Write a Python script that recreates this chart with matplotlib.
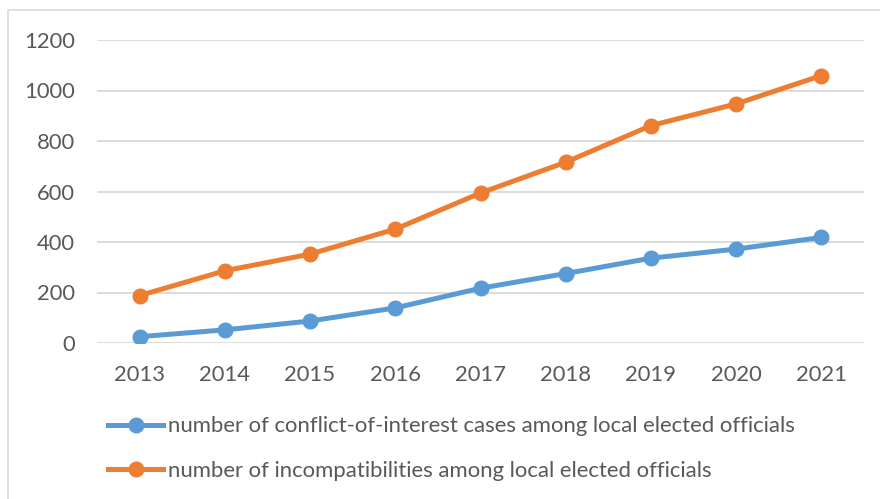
import matplotlib.pyplot as plt
from matplotlib.patches import Rectangle

plt.rcParams['font.family'] = ['Lato', 'DejaVu Sans']

years = ['2013', '2014', '2015', '2016', '2017', '2018', '2019', '2020', '2021']
conflict_cases = [25, 52, 87, 139, 217, 275, 336, 372, 418]
incompatibilities = [188, 286, 352, 451, 594, 716, 861, 947, 1059]

blue = '#5B9BD5'
orange = '#ED7D31'
text_col = '#595959'

fig = plt.figure(figsize=(8.8, 4.99), dpi=100)
fig.patches.append(Rectangle((8 / 880, -0.1), 1.0, 1 - 10 / 499 + 0.1, transform=fig.transFigure,
                             fill=False, edgecolor='#D9D9D9', linewidth=1.2))
ax = fig.add_axes([97 / 880, 1 - 343 / 499, (864 - 97) / 880, (343 - 40) / 499])

x = range(len(years))
ax.plot(x, conflict_cases, color=blue, lw=3.6, marker='o', ms=10.5,
        label='number of conflict-of-interest cases among local elected officials', zorder=3)
ax.plot(x, incompatibilities, color=orange, lw=3.6, marker='o', ms=10.5,
        label='number of incompatibilities among local elected officials', zorder=3)

ax.set_xlim(-0.5, len(years) - 0.5)
ax.set_ylim(0, 1200)
ax.set_yticks(range(0, 1201, 200))
ax.set_xticks(list(x))
ax.set_xticklabels(years)
ax.grid(axis='y', color='#D9D9D9', lw=1.3)
ax.set_axisbelow(True)
for s in ax.spines.values():
    s.set_visible(False)
ax.tick_params(length=0, labelsize=15.8, labelcolor=text_col)
ax.tick_params(axis='x', pad=16)
ax.tick_params(axis='y', pad=16)

fig.legend(loc='center left', bbox_to_anchor=(108 / 880, 1 - 448.5 / 499), frameon=False,
           fontsize=15.9, labelcolor=text_col, handlelength=2.5, handletextpad=0.2,
           labelspacing=1.1, borderpad=0, borderaxespad=0)

fig.savefig('out.png', dpi=100)
